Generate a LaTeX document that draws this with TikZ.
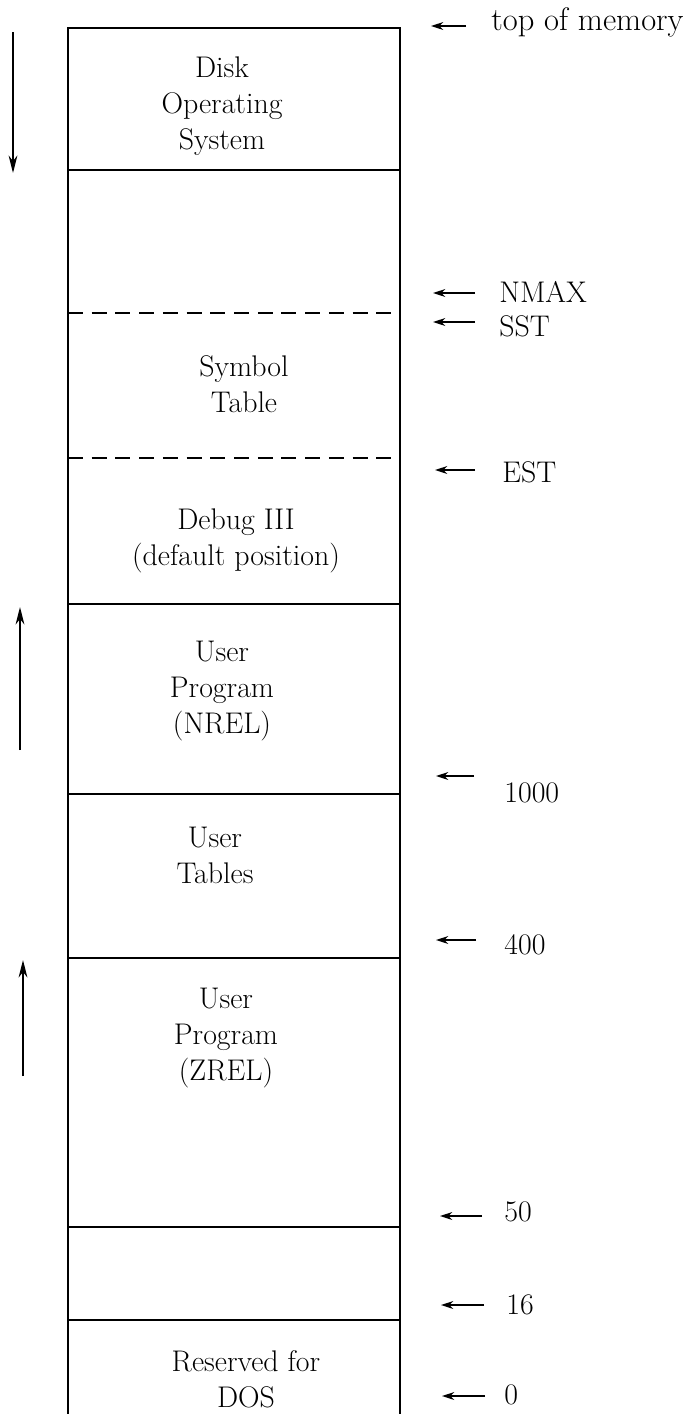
\documentclass[tikz,border=0pt]{standalone}
\usetikzlibrary{arrows.meta, positioning}
\tikzset{
  wall/.style={line width=1.1pt},
  cut/.style={line width=1.3pt},
  softcut/.style={line width=1.2pt, dash pattern=on 8.5pt off 5pt},
  region/.style={align=center, font=\fontsize{17}{20.4}\selectfont},
  addr/.style={anchor=west, inner sep=0pt, font=\fontsize{17}{19}\selectfont},
  ptr/.style={-{Stealth[length=7pt,width=4.5pt]}, line width=0.8pt},
  growarrow/.style={-{Stealth[length=10pt,width=5pt]}, line width=1pt},
}
\begin{document}
\begin{tikzpicture}[x=0.02cm,y=-0.02cm]
\useasboundingbox (0,0) rectangle (697,1414);

% memory column
\coordinate (tl) at (68,28);
\coordinate (tr) at (400,28);
\coordinate (bl) at (68,1414);
\coordinate (br) at (400,1414);
\draw[wall] (bl) -- (tl) -- (tr) -- (br);
\foreach \y in {170,604,794,958,1227,1320}
  \draw[cut] (68,\y) -- (400,\y);
\foreach \y in {313,458}
  \draw[softcut] (68,\y) -- (400,\y);

% regions
\node[region] (os) at (222,106) {Disk\\Operating\\System};
\node[region] (symtab) at (244,384) {Symbol\\Table};
\node[region] (debug) at (236,541) {Debug III\\(default position)};
\node[region] (nrel) at (222,691) {User\\Program\\(NREL)};
\node[region] (tables) at (215,855) {User\\Tables};
\node[region] (zrel) at (226,1038) {User\\Program\\(ZREL)};
\node[region] (resv) at (246,1379) {Reserved for\\DOS};

% addresses
\node[addr, font=\fontsize{18.5}{20}\selectfont] (tom) at (491,22) {top of memory};
\node[addr] (nmax) at (499,292) {NMAX};
\node[addr] (sst) at (499,326) {SST};
\node[addr] (est) at (502,472) {EST};
\node[addr] (k1000) at (504,793) {1000};
\node[addr] (k400) at (504,945) {400};
\node[addr] (k50) at (504,1212) {50};
\node[addr] (k16) at (506,1305) {16};
\node[addr] (k0) at (504,1395) {0};

\foreach \nm/\t/\h/\y in {tom/466/431/26, nmax/475/433/293, sst/475/433/322,
    est/475/435/470, k1000/474/436/776, k400/476/436/940,
    k50/482/440/1216, k16/484/441/1305, k0/485/442/1396}{
  \coordinate (\nm T) at (\t,\y);
  \coordinate (\nm H) at (\h,\y);
  \draw[ptr] (\nm T) -- (\nm H);
}

% growth directions
\coordinate (osT) at (13,32);
\coordinate (osH) at (13,173);
\coordinate (nrelT) at (20,750);
\coordinate (nrelH) at (20,607);
\coordinate (zrelT) at (23,1076);
\coordinate (zrelH) at (23,960);
\draw[growarrow] (osT) -- (osH);
\draw[growarrow] (nrelT) -- (nrelH);
\draw[growarrow] (zrelT) -- (zrelH);
\end{tikzpicture}
\end{document}
